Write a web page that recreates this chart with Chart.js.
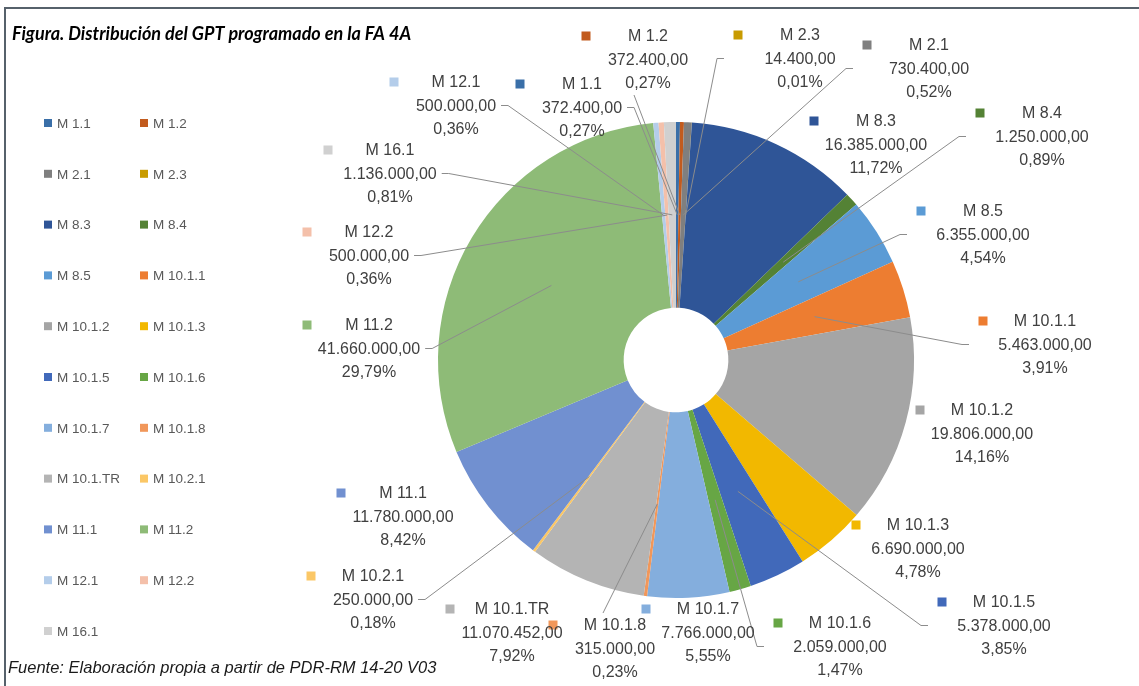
<!DOCTYPE html>
<html lang="es">
<head>
  <meta charset="UTF-8">
  <title>Distribución del GPT programado en la FA 4A</title>
  <script src="https://cdn.jsdelivr.net/npm/chart.js"></script>
  <style>
    body { margin: 0; background: #fff; }
    canvas { display: block; }
  </style>
</head>
<body>
  <canvas id="gptChart" width="1139" height="686"></canvas>

  <script>
    const categories = ['M 1.1', 'M 1.2', 'M 2.1', 'M 2.3', 'M 8.3', 'M 8.4', 'M 8.5',
      'M 10.1.1', 'M 10.1.2', 'M 10.1.3', 'M 10.1.5', 'M 10.1.6', 'M 10.1.7', 'M 10.1.8',
      'M 10.1.TR', 'M 10.2.1', 'M 11.1', 'M 11.2', 'M 12.1', 'M 12.2', 'M 16.1'];
    const values = [372400, 372400, 730400, 14400, 16385000, 1250000, 6355000,
      5463000, 19806000, 6690000, 5378000, 2059000, 7766000, 315000,
      11070452, 250000, 11780000, 41660000, 500000, 500000, 1136000];
    const colors = ['#3A6FA8', '#C25B1E', '#7F7F7F', '#C89B00', '#2F5597', '#548235', '#5B9BD5',
      '#ED7D31', '#A5A5A5', '#F2B800', '#4169BA', '#67A645', '#84AEDD', '#F1975A',
      '#B4B4B4', '#FBC766', '#7190D0', '#8EBB77', '#B4CDEA', '#F4C0AA', '#D0D0D0'];

    // label block placement, relative to the pie centre (centre x, y of first line)
    const labelPos = [[-94, -276], [-28, -324], [253, -315], [124, -325], [200, -239], [366, -247], [307, -149],
      [369, -39], [306, 50], [242, 165], [328, 242], [164, 263], [32, 249], [-61, 265],
      [-164, 249], [-303, 216], [-273, 133], [-307, -35], [-220, -278], [-307, -128], [-286, -210]];
    // where the leader line leaves the label: L / R side of value line, B bottom, T top, null none
    const leaderSide = ['R', 'B', 'L', 'L', null, 'L', 'L',
      'L', null, null, 'L', 'L', null, 'T',
      null, 'R', null, 'R', 'R', 'R', 'R'];

    const total = values.reduce((a, b) => a + b, 0);

    function fmtNum(v) {
      const parts = v.toFixed(2).split('.');
      return parts[0].replace(/\B(?=(\d{3})+(?!\d))/g, '.') + ',' + parts[1];
    }
    function fmtPct(v) {
      return (v / total * 100).toFixed(2).replace('.', ',') + '%';
    }

    const frameAndText = {
      id: 'frameAndText',
      beforeDraw(chart) {
        const ctx = chart.ctx;
        ctx.save();
        ctx.fillStyle = '#fff';
        ctx.fillRect(0, 0, chart.width, chart.height);
        ctx.fillStyle = '#56616b';
        ctx.fillRect(5, 7, chart.width - 5, 2);
        ctx.fillRect(4, 7, 2, chart.height - 7);

        ctx.fillStyle = '#000';
        ctx.textBaseline = 'middle';
        ctx.textAlign = 'left';
        ctx.font = 'italic bold 18px Lato, "Open Sans", sans-serif';
        ctx.fillText('Figura. Distribución del GPT programado en la FA 4A', 12, 34);
        ctx.fillStyle = '#1a1a1a';
        ctx.font = 'italic 16.5px "Liberation Sans", Arial, sans-serif';
        ctx.fillText('Fuente: Elaboración propia a partir de PDR-RM 14-20 V03', 8, 668);

        // legend, two columns, row by row
        ctx.font = '13.5px "Liberation Sans", Arial, sans-serif';
        categories.forEach((c, i) => {
          const col = i % 2, row = Math.floor(i / 2);
          const x = col === 0 ? 44 : 140;
          const y = 123 + row * 50.8;
          ctx.fillStyle = colors[i];
          ctx.fillRect(x, y - 4, 8, 8);
          ctx.fillStyle = '#595959';
          ctx.fillText(c, x + 13, y + 1);
        });
        ctx.restore();
      }
    };

    const sliceLabels = {
      id: 'sliceLabels',
      afterDatasetsDraw(chart) {
        const ctx = chart.ctx;
        const meta = chart.getDatasetMeta(0);
        ctx.save();
        ctx.font = '16px "Liberation Sans", Arial, sans-serif';
        ctx.textBaseline = 'middle';
        ctx.textAlign = 'center';
        meta.data.forEach((arc, i) => {
          const p = arc.getProps(['x', 'y', 'startAngle', 'endAngle', 'innerRadius', 'outerRadius'], true);
          const mid = (p.startAngle + p.endAngle) / 2;
          const r = (p.innerRadius + p.outerRadius) / 2;
          const tx = p.x + Math.cos(mid) * r;
          const ty = p.y + Math.sin(mid) * r;

          const bx = p.x + labelPos[i][0];
          const by = p.y + labelPos[i][1];
          const lines = [categories[i], fmtNum(values[i]), fmtPct(values[i])];
          const lh = 23.5;
          const maxW = Math.max(...lines.map(t => ctx.measureText(t).width));
          const keyX = bx - 62;
          const boxL = Math.min(keyX - 5, bx - maxW / 2) - 9;
          const boxR = bx + maxW / 2 + 5;

          const side = leaderSide[i];
          if (side) {
            ctx.strokeStyle = '#8c8c8c';
            ctx.lineWidth = 1;
            ctx.beginPath();
            if (side === 'L') {
              ctx.moveTo(boxL, by + lh);
              ctx.lineTo(boxL - 7, by + lh);
            } else if (side === 'R') {
              ctx.moveTo(boxR, by + lh);
              ctx.lineTo(boxR + 7, by + lh);
            } else if (side === 'B') {
              ctx.moveTo(bx - 14, by + 2 * lh + 12);
            } else {
              ctx.moveTo(bx - 12, by - 12);
            }
            ctx.lineTo(tx, ty);
            ctx.stroke();
          }

          ctx.fillStyle = colors[i];
          ctx.fillRect(keyX - 4.5, by - 4.5, 9, 9);
          ctx.fillStyle = '#404040';
          lines.forEach((t, k) => ctx.fillText(t, bx, by + k * lh + 1));
        });
        ctx.restore();
      }
    };

    new Chart(document.getElementById('gptChart').getContext('2d'), {
      type: 'doughnut',
      data: {
        labels: categories,
        datasets: [{
          data: values,
          backgroundColor: colors,
          borderWidth: 0
        }]
      },
      options: {
        responsive: false,
        animation: false,
        cutout: '22%',
        layout: { padding: { left: 438, right: 225, top: 122, bottom: 88 } },
        plugins: {
          legend: { display: false },
          tooltip: { enabled: false }
        }
      },
      plugins: [frameAndText, sliceLabels]
    });
  </script>
</body>
</html>
